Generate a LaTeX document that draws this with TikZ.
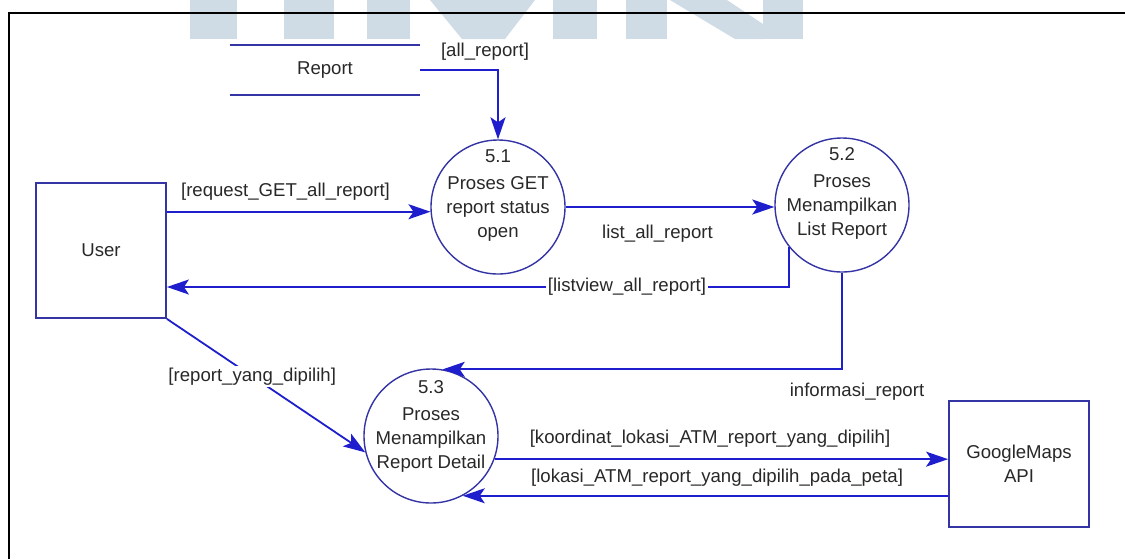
\documentclass[tikz,border=0pt]{standalone}
\usepackage{fontspec}
\setmainfont{Liberation Sans}
\usetikzlibrary{arrows.meta,calc}
\definecolor{wm}{RGB}{207,220,230}
\definecolor{navy}{RGB}{52,52,165}
\definecolor{flowc}{RGB}{30,30,205}
\definecolor{txt}{RGB}{40,40,40}
\begin{document}
\begin{tikzpicture}[x=0.5pt,y=-0.5pt,
  every node/.style={font=\fontsize{9.3}{12}\selectfont, text=txt},
  proc/.style={circle, draw=navy, line width=0.7pt, minimum size=67pt, inner sep=0pt},
  ent/.style={draw=navy, line width=0.9pt, inner sep=0pt},
  flow/.style={draw=flowc, line width=0.9pt, -{Stealth[length=11pt,width=7.5pt,inset=2.5pt]}},
  lbl/.style={fill=white, inner sep=1pt}]
\useasboundingbox (0,0) rectangle (1125,559);
% watermark
\fill[wm] (190,0) -- (237,0) -- (237,39) -- (190,39) -- cycle;
\fill[wm] (284,0) -- (334,0) -- (334,39) -- (284,39) -- cycle;
\fill[wm] (367,0) -- (410,0) -- (410,39) -- (367,39) -- cycle;
\fill[wm] (430,0) -- (535,0) -- (505,39) -- (462,39) -- cycle;
\fill[wm] (553,0) -- (597,0) -- (597,39) -- (553,39) -- cycle;
\fill[wm] (626,0) -- (667,0) -- (667,39) -- (626,39) -- cycle;
\fill[wm] (670,0) -- (727,0) -- (763,24) -- (763,39) -- (735,39) -- cycle;
\fill[wm] (763,0) -- (803,0) -- (803,39) -- (763,39) -- cycle;
% frame
\draw[line width=1.3pt] (9,559) -- (9,13) -- (1125,13);
% nodes
\node[minimum width=95pt, minimum height=25pt, inner sep=0pt] (store) at (325,70) {Report};
\draw[navy, line width=1pt] (store.north west) -- (store.north east);
\draw[navy, line width=1pt] (store.south west) -- (store.south east);
\node[ent, minimum width=65pt, minimum height=67.5pt] (user) at (101,250.5) {User};
\node[ent, minimum width=70pt, minimum height=63pt, align=center] (gm) at (1019,464) {GoogleMaps\\API};
\node[proc] (p51) at (498,207) {};
\node[proc] (p52) at (842,205) {};
\node[proc] (p53) at (431,436) {};
\node[align=center] (t51) at (498,196) {5.1\\[1.5pt]Proses GET\\report status\\open};
\node[align=center] (t52) at (842,193) {5.2\\[1.5pt]Proses\\Menampilkan\\List Report};
\node[align=center] (t53) at (431,426) {5.3\\[1.5pt]Proses\\Menampilkan\\Report Detail};
\coordinate (lvy) at (0,287);
% flows
\draw[flow] (store.east) -| node[pos=0.5, above=1pt, xshift=-6.5pt] {[all\_report]} (p51.north);
\draw[flow] (user.east |- p51.184) -- node[pos=0.45, above=2pt] {[request\_GET\_all\_report]} (p51.184);
\draw[flow] (p51.east) -- node[pos=0.44, below=5pt] {list\_all\_report} (p51.east -| p52.west);
\draw[flow] (p52.218) |- node[pos=0.63, lbl] {[listview\_all\_report]} (user.east |- lvy);
\draw[flow] (p52.south) |- node[pos=0.5, below=3pt, xshift=7.5pt] {informasi\_report} (p53.80);
\draw[flow] (user.south east) -- node[pos=0.43, lbl] {[report\_yang\_dipilih]} (p53.194);
\draw[flow] (p53.-20) -- node[pos=0.475, above=2pt] {[koordinat\_lokasi\_ATM\_report\_yang\_dipilih]} (p53.-20 -| gm.west);
\draw[flow] (p53.-62 -| gm.west) -- node[pos=0.476, above=1pt] {[lokasi\_ATM\_report\_yang\_dipilih\_pada\_peta]} (p53.-62);
\end{tikzpicture}
\end{document}
